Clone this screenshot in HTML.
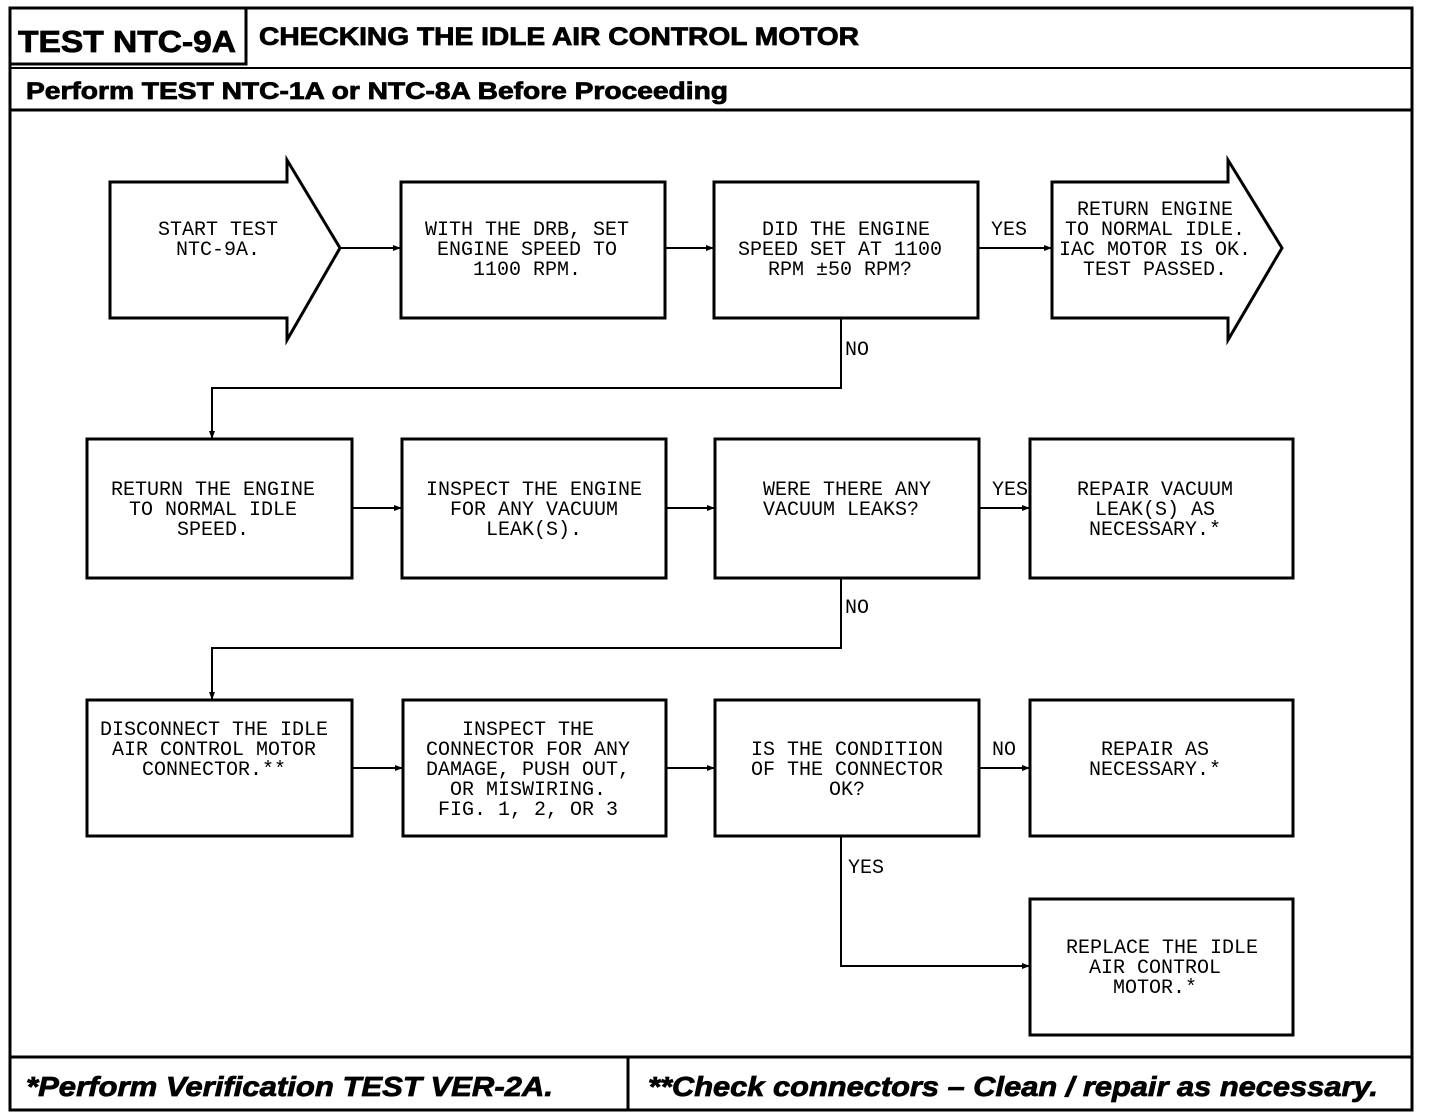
<!DOCTYPE html><html><head><style>body{margin:0;background:#fff}svg{display:block}</style></head><body>
<svg width="1440" height="1120" xmlns="http://www.w3.org/2000/svg">
<defs><marker id="a" markerWidth="8" markerHeight="8" refX="7" refY="4" orient="auto" markerUnits="userSpaceOnUse"><path d="M0 1L8 4L0 7Z" fill="#000"/></marker></defs>
<g fill="none" stroke="#000" stroke-width="3">
<rect x="10" y="8" width="1402" height="1102"/>
<rect x="10" y="8" width="236" height="56"/>
<line x1="10" y1="68" x2="1412" y2="68" stroke-width="2"/>
<line x1="10" y1="110" x2="1412" y2="110"/>
<line x1="10" y1="1057" x2="1412" y2="1057"/>
<line x1="628" y1="1057" x2="628" y2="1110"/>
<polygon points="110,182 287,182 287,160 340,248 287,340 287,318 110,318"/>
<rect x="401" y="182" width="264" height="136"/>
<rect x="714" y="182" width="264" height="136"/>
<polygon points="1052,182 1228,182 1228,160 1282,248 1228,340 1228,318 1052,318"/>
<rect x="87" y="439" width="265" height="139"/>
<rect x="402" y="439" width="264" height="139"/>
<rect x="715" y="439" width="264" height="139"/>
<rect x="1030" y="439" width="263" height="139"/>
<rect x="87" y="700" width="265" height="136"/>
<rect x="403" y="700" width="263" height="136"/>
<rect x="715" y="700" width="264" height="136"/>
<rect x="1030" y="700" width="263" height="136"/>
<rect x="1030" y="899" width="263" height="136"/>
</g>
<g fill="none" stroke="#000" stroke-width="2" marker-end="url(#a)">
<path d="M340 248H400"/><path d="M665 248H713"/><path d="M978 248H1051"/>
<path d="M841 318V388H212V438"/>
<path d="M352 508H401"/><path d="M666 508H714"/><path d="M979 508H1029"/>
<path d="M841 578V648H212V699"/>
<path d="M352 768H402"/><path d="M666 768H714"/><path d="M979 768H1029"/>
<path d="M841 836V966H1029"/>
</g>
<g font-family="Liberation Sans, sans-serif" font-weight="bold" fill="#000" stroke="#000" stroke-width="0.8">
<text x="18" y="52" font-size="31" textLength="218" lengthAdjust="spacingAndGlyphs">TEST NTC-9A</text>
<text x="259" y="45" font-size="25" textLength="600" lengthAdjust="spacingAndGlyphs">CHECKING THE IDLE AIR CONTROL MOTOR</text>
<text x="26" y="99" font-size="24" textLength="702" lengthAdjust="spacingAndGlyphs">Perform TEST NTC-1A or NTC-8A Before Proceeding</text>
<text x="26" y="1096" font-size="28" font-style="italic" textLength="527" lengthAdjust="spacingAndGlyphs">*Perform  Verification TEST VER-2A.</text>
<text x="648" y="1096" font-size="28" font-style="italic" textLength="730" lengthAdjust="spacingAndGlyphs">**Check connectors – Clean / repair as necessary.</text>
</g>
<g font-family="Liberation Mono, monospace" font-size="20" fill="#000" text-anchor="middle">
<text x="218" y="235">START TEST</text><text x="218" y="255">NTC-9A.</text>
<text x="527" y="235">WITH THE DRB, SET</text><text x="527" y="255">ENGINE SPEED TO</text><text x="527" y="275">1100 RPM.</text>
<text x="846" y="235">DID THE ENGINE</text><text x="840" y="255">SPEED SET AT 1100</text><text x="840" y="275">RPM ±50 RPM?</text>
<text x="1155" y="215">RETURN ENGINE</text><text x="1155" y="235">TO NORMAL IDLE.</text><text x="1155" y="255">IAC MOTOR IS OK.</text><text x="1155" y="275">TEST PASSED.</text>
<text x="213" y="495">RETURN THE ENGINE</text><text x="213" y="515">TO NORMAL IDLE</text><text x="213" y="535">SPEED.</text>
<text x="534" y="495">INSPECT THE ENGINE</text><text x="534" y="515">FOR ANY VACUUM</text><text x="534" y="535">LEAK(S).</text>
<text x="847" y="495">WERE THERE ANY</text><text x="841" y="515">VACUUM LEAKS?</text>
<text x="1155" y="495">REPAIR VACUUM</text><text x="1155" y="515">LEAK(S) AS</text><text x="1155" y="535">NECESSARY.*</text>
<text x="214" y="735">DISCONNECT THE IDLE</text><text x="214" y="755">AIR CONTROL MOTOR</text><text x="214" y="775">CONNECTOR.**</text>
<text x="528" y="735">INSPECT THE</text><text x="528" y="755">CONNECTOR FOR ANY</text><text x="528" y="775">DAMAGE, PUSH OUT,</text><text x="528" y="795">OR MISWIRING.</text><text x="528" y="815">FIG. 1, 2, OR 3</text>
<text x="847" y="755">IS THE CONDITION</text><text x="847" y="775">OF THE CONNECTOR</text><text x="847" y="795">OK?</text>
<text x="1155" y="755">REPAIR AS</text><text x="1155" y="775">NECESSARY.*</text>
<text x="1162" y="953">REPLACE THE IDLE</text><text x="1155" y="973">AIR CONTROL</text><text x="1155" y="993">MOTOR.*</text>
</g>
<g font-family="Liberation Mono, monospace" font-size="20" fill="#000">
<text x="991" y="235">YES</text><text x="845" y="355">NO</text>
<text x="992" y="495">YES</text><text x="845" y="613">NO</text>
<text x="992" y="755">NO</text><text x="848" y="873">YES</text>
</g>
</svg></body></html>
